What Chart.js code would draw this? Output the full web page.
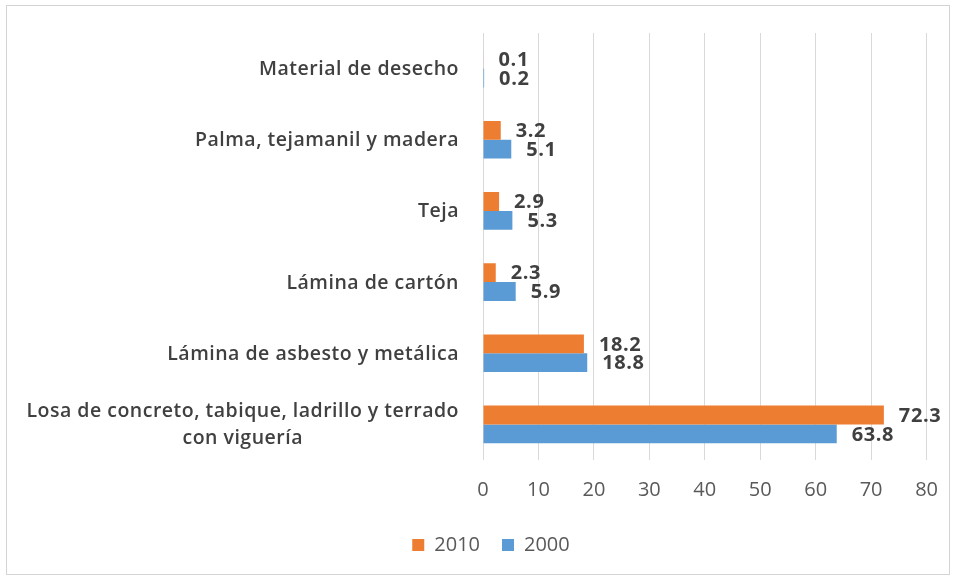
<!DOCTYPE html>
<html>
<head>
<meta charset="utf-8">
<script src="https://cdn.jsdelivr.net/npm/chart.js@4/dist/chart.umd.min.js"></script>
<style>
  html, body { margin: 0; padding: 0; background: #ffffff; }
  #wrap { position: relative; width: 956px; height: 580px; }
  #frame { position: absolute; left: 6px; top: 5px; width: 942px; height: 568px; border: 1px solid #d4d4d4; pointer-events: none; }
</style>
</head>
<body>
<div id="wrap">
  <canvas id="c" width="956" height="580"></canvas>
  <div id="frame"></div>
</div>
<script>
const categories = [
  ["Material de desecho"],
  ["Palma, tejamanil y madera"],
  ["Teja"],
  ["Lámina de cartón"],
  ["Lámina de asbesto y metálica"],
  ["Losa de concreto, tabique, ladrillo y terrado", "con viguería"]
];
const seriesNames = ["2010", "2000"];
const values2010 = [0.1, 3.2, 2.9, 2.3, 18.2, 72.3];
const values2000 = [0.2, 5.1, 5.3, 5.9, 18.8, 63.8];
const xTicks = [0, 10, 20, 30, 40, 50, 60, 70, 80];

const FONT = "'Open Sans', 'DejaVu Sans', sans-serif";

const yLabelPlugin = {
  id: 'yLabels',
  afterDraw(chart) {
    const ctx = chart.ctx;
    const ys = chart.scales.y;
    const right = chart.chartArea.left - 24;
    ctx.save();
    ctx.font = "600 19.5px " + FONT;
    ctx.letterSpacing = '0.5px';
    ctx.fillStyle = '#404040';
    ctx.textBaseline = 'middle';
    categories.forEach((lines, i) => {
      const cy = ys.getPixelForValue(i) + 1;
      const lh = 27;
      const widths = lines.map(l => ctx.measureText(l).width);
      const maxW = Math.max(...widths);
      const cx = right - maxW / 2;
      const y0 = cy - (lines.length - 1) * lh / 2;
      ctx.textAlign = 'center';
      lines.forEach((l, k) => ctx.fillText(l, cx, y0 + k * lh));
    });
    ctx.restore();
  }
};

const valueLabelPlugin = {
  id: 'valueLabels',
  afterDatasetsDraw(chart) {
    const ctx = chart.ctx;
    ctx.save();
    ctx.font = "bold 20px " + FONT;
    ctx.letterSpacing = '0.6px';
    ctx.fillStyle = '#404040';
    ctx.textAlign = 'left';
    ctx.textBaseline = 'middle';
    chart.data.datasets.forEach((ds, di) => {
      const meta = chart.getDatasetMeta(di);
      meta.data.forEach((bar, i) => {
        ctx.fillText(ds.data[i].toFixed(1), bar.x + 15, bar.y + 1);
      });
    });
    ctx.restore();
  }
};

new Chart(document.getElementById('c'), {
  type: 'bar',
  data: {
    labels: categories.map(c => c.join(' ')),
    datasets: [
      { label: seriesNames[0], data: values2010, backgroundColor: '#ED7D31', borderWidth: 0 },
      { label: seriesNames[1], data: values2000, backgroundColor: '#5B9BD5', borderWidth: 0 }
    ]
  },
  options: {
    indexAxis: 'y',
    responsive: false,
    animation: false,
    devicePixelRatio: 1,
    layout: { padding: { top: 33, right: 27, bottom: 15, left: 53 } },
    datasets: { bar: { categoryPercentage: 0.53, barPercentage: 1.0 } },
    scales: {
      x: {
        min: 0, max: 80,
        afterBuildTicks(scale) { scale.ticks = xTicks.map(v => ({ value: v })); },
        afterFit(scale) { scale.height = 53; },
        grid: { color: '#d9d9d9', lineWidth: 1, drawTicks: false },
        border: { display: false },
        ticks: { padding: 18, color: '#595959', font: { family: FONT, size: 20 } }
      },
      y: {
        afterFit(scale) { scale.width = 430; },
        grid: { display: false, drawTicks: false },
        border: { display: false },
        ticks: { display: false }
      }
    },
    plugins: {
      legend: {
        position: 'bottom',
        labels: {
          boxWidth: 12, boxHeight: 12, padding: 22,
          color: '#595959',
          font: { family: FONT, size: 20 }
        }
      },
      tooltip: { enabled: false }
    }
  },
  plugins: [yLabelPlugin, valueLabelPlugin]
});
</script>
</body>
</html>
